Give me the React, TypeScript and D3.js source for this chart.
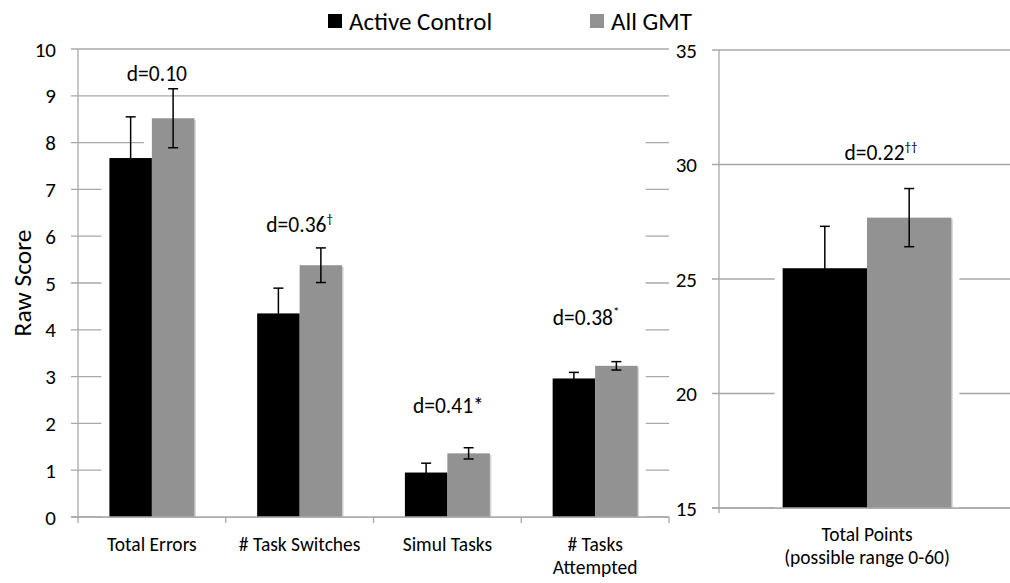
import React from "react";
import * as d3 from "d3";

const categories = ["Total Errors", "# Task Switches", "Simul Tasks", "# Tasks|Attempted"];
const series = ["Active Control", "All GMT"];
const controlMeans = [7.67, 4.35, 0.95, 2.96];
const controlErr = [0.88, 0.54, 0.2, 0.13];
const gmtMeans = [8.52, 5.38, 1.36, 3.23];
const gmtErr = [0.63, 0.37, 0.12, 0.09];
const leftTicks = [0, 1, 2, 3, 4, 5, 6, 7, 8, 9, 10];

const rightCategories = ["Total Points|(possible range 0-60)"];
const rightControlMeans = [25.47];
const rightControlErr = [1.83];
const rightGmtMeans = [27.68];
const rightGmtErr = [1.27];
const rightTicks = [15, 20, 25, 30, 35];

const effectLabels = ["d=0.10", "d=0.36", "d=0.41*", "d=0.38"];
const effectSups = ["", "†", "", "*"];
const effectLevels = [9.32, 6.09, 2.22, 4.1];
const rightEffectLabels = ["d=0.22"];
const rightEffectSups = ["††"];
const rightEffectLevels = [30.18];

const colors = ["#000000", "#929292"];
const GRID = "#a8a8a8";
const FONT = "Carlito, Lato, 'Open Sans', sans-serif";
const HALO = 8;

type Bar = { x: number; y: number; w: number; h: number; c: string; v: number; e: number };

function App() {
  const W = 1010, H = 583;
  // left chart
  const yL = d3.scaleLinear().domain([0, 10]).range([517, 49]);
  const xL = d3.scaleBand().domain(categories).range([78, 669]).paddingInner(0.425).paddingOuter(0.2125);
  const xLs = d3.scaleBand().domain(series).range([0, xL.bandwidth()]);
  // right chart
  const yR = d3.scaleLinear().domain([15, 35]).range([508, 50]);
  const xR = d3.scaleBand().domain(rightCategories).range([719, 1015]).paddingInner(0.43).paddingOuter(0.215);
  const xRs = d3.scaleBand().domain(series).range([0, xR.bandwidth()]);

  const leftBars: Bar[] = [];
  categories.forEach((c, i) => {
    [controlMeans, gmtMeans].forEach((arr, s) => {
      const errs = s === 0 ? controlErr : gmtErr;
      const x = (xL(c) as number) + (xLs(series[s]) as number);
      leftBars.push({ x, y: yL(arr[i]), w: xLs.bandwidth(), h: yL(0) - yL(arr[i]), c: colors[s], v: arr[i], e: errs[i] });
    });
  });
  const rightBars: Bar[] = [];
  rightCategories.forEach((c, i) => {
    [rightControlMeans, rightGmtMeans].forEach((arr, s) => {
      const errs = s === 0 ? rightControlErr : rightGmtErr;
      const x = (xR(c) as number) + (xRs(series[s]) as number);
      rightBars.push({ x, y: yR(arr[i]), w: xRs.bandwidth(), h: yR(15) - yR(arr[i]), c: colors[s], v: arr[i], e: errs[i] });
    });
  });

  const errBar = (b: Bar, y: d3.ScaleLinear<number, number>, k: string) => {
    const cx = b.x + b.w / 2;
    return (
      <g key={k} stroke="#000" strokeWidth={1.5}>
        <line x1={cx} x2={cx} y1={y(b.v + b.e)} y2={y(b.v - b.e)} />
        <line x1={cx - 5} x2={cx + 5} y1={y(b.v + b.e)} y2={y(b.v + b.e)} />
        <line x1={cx - 5} x2={cx + 5} y1={y(b.v - b.e)} y2={y(b.v - b.e)} />
      </g>
    );
  };

  const barGroup = (bars: Bar[], base: number, pre: string) => (
    <g>
      {bars.map((b, i) => (
        <rect key={pre + "h" + i} x={b.x - HALO} y={b.y - HALO} width={b.w + 2 * HALO} height={base - b.y + HALO} fill="#fff" />
      ))}
      {bars.map((b, i) => (
        <rect key={pre + "s" + i} x={b.x + 1.5} y={b.y + 1.5} width={b.w} height={b.h - 1.5} fill="#d4d4d4" />
      ))}
      {bars.map((b, i) => (
        <rect key={pre + "b" + i} x={b.x} y={b.y} width={b.w} height={b.h} fill={b.c} />
      ))}
    </g>
  );

  const firstGmtRight = leftBars[1].x + leftBars[1].w;
  const lastRight = leftBars[leftBars.length - 1].x + leftBars[leftBars.length - 1].w;
  const [lx0, lx1] = xL.range();
  const [rx0, rx1] = xR.range();

  return (
    <svg width={W} height={H} style={{ position: "absolute", left: 0, top: 0 }} fontFamily={FONT}>
      <rect x={0} y={0} width={W} height={H} fill="#fff" />
      {/* legend */}
      <rect x={328} y={14} width={14} height={14} fill={colors[0]} />
      <text x={349} y={30} fontSize={25} fill="#000">{series[0]}</text>
      <rect x={590} y={14} width={14} height={14} fill={colors[1]} />
      <text x={611} y={30} fontSize={25} fill="#000">{series[1]}</text>

      {/* left gridlines */}
      {leftTicks.map((t) => (
        <line key={"lg" + t} x1={lx0 - 7} x2={lx1} y1={yL(t)} y2={yL(t)} stroke={GRID} strokeWidth={1.3} />
      ))}
      <rect x={firstGmtRight} y={yL(8.6)} width={lastRight + HALO - firstGmtRight} height={yL(0) - yL(8.6)} fill="#fff" />
      {barGroup(leftBars, yL(0), "l")}
      {/* left axes */}
      <line x1={lx0} x2={lx0} y1={yL(10)} y2={yL(0) + 6} stroke={GRID} strokeWidth={1.3} />
      <line x1={lx0 - 7} x2={lx1} y1={yL(0)} y2={yL(0)} stroke={GRID} strokeWidth={1.3} />
      {categories.map((c, i) => (
        <line key={"lt" + i} x1={(xL(c) as number) + xL.bandwidth() / 2 + xL.step() / 2} x2={(xL(c) as number) + xL.bandwidth() / 2 + xL.step() / 2} y1={yL(0)} y2={yL(0) + 6} stroke={GRID} strokeWidth={1.3} />
      ))}
      {leftTicks.map((t) => (
        <text key={"lt" + t} x={lx0 - 22} y={yL(t) + 7.5} fontSize={21} textAnchor="end" fill="#000">{t}</text>
      ))}
      {leftBars.map((b, i) => errBar(b, yL, "le" + i))}
      {categories.map((c, i) => {
        const cx = (xL(c) as number) + xL.bandwidth() / 2;
        return c.split("|").map((ln, j) => (
          <text key={"lc" + i + j} x={cx} y={yL(0) + 34 + j * 23} fontSize={19.5} textAnchor="middle" fill="#000">{ln}</text>
        ));
      })}
      <text transform={`translate(31,${(yL(0) + yL(10)) / 2}) rotate(-90)`} fontSize={25.5} textAnchor="middle" fill="#000">Raw Score</text>
      {effectLabels.map((t, i) => {
        const cx = (xL(categories[i]) as number) + xL.bandwidth() / 2 + [5, 0, 1, -9][i];
        return (
          <text key={"el" + i} x={cx} y={yL(effectLevels[i])} fontSize={21.5} textAnchor="middle" fill="#000">
            {t}
            {effectSups[i] && <tspan fontSize={13} dy={-9}>{effectSups[i]}</tspan>}
          </text>
        );
      })}

      {/* right chart */}
      {rightTicks.map((t) => (
        <line key={"rg" + t} x1={rx0 - 7} x2={rx1} y1={yR(t)} y2={yR(t)} stroke={GRID} strokeWidth={1.3} />
      ))}
      {barGroup(rightBars, yR(15), "r")}
      <line x1={rx0} x2={rx0} y1={yR(35)} y2={yR(15) + 5} stroke={GRID} strokeWidth={1.3} />
      <line x1={rx0 - 7} x2={rx1} y1={yR(15)} y2={yR(15)} stroke={GRID} strokeWidth={1.3} />
      {rightTicks.map((t) => (
        <text key={"rt" + t} x={rx0 - 22} y={yR(t) + 7.5} fontSize={21} textAnchor="end" fill="#000">{t}</text>
      ))}
      {rightBars.map((b, i) => errBar(b, yR, "re" + i))}
      {rightCategories.map((c, i) => {
        const cx = (xR(c) as number) + xR.bandwidth() / 2;
        return c.split("|").map((ln, j) => (
          <text key={"rc" + i + j} x={cx} y={yR(15) + 33 + j * 23} fontSize={19.5} textAnchor="middle" fill="#000">{ln}</text>
        ));
      })}
      {rightEffectLabels.map((t, i) => {
        const cx = (xR(rightCategories[i]) as number) + xR.bandwidth() / 2 + 14;
        return (
          <text key={"rel" + i} x={cx} y={yR(rightEffectLevels[i])} fontSize={21.5} textAnchor="middle" fill="#000">
            {t}
            <tspan fontSize={13} dy={-9}>{rightEffectSups[i]}</tspan>
          </text>
        );
      })}
    </svg>
  );
}

export default App;
